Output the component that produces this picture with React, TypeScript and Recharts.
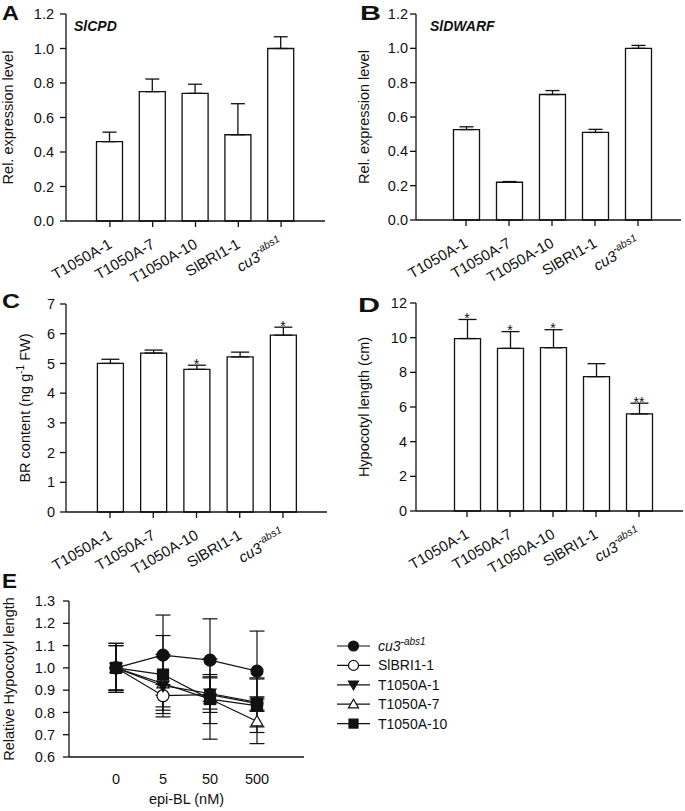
import React from "react";
import {
  BarChart,
  Bar,
  LineChart,
  Line,
  XAxis,
  YAxis,
  ErrorBar,
  ReferenceDot,
} from "recharts";

const FONT = '"Liberation Sans", Arial, Helvetica, sans-serif';
const INK = "#111";

// lines on the x axis of panels A-D
const strains = ["T1050A-1", "T1050A-7", "T1050A-10", "SlBRI1-1", "cu3"];
const strainSup = ["", "", "", "", "-abs1"];

// A: SlCPD expression
const cpdMean = [0.46, 0.75, 0.74, 0.5, 1.0];
const cpdErr = [0.055, 0.073, 0.053, 0.18, 0.068];
// B: SlDWARF expression
const dwarfMean = [0.527, 0.22, 0.731, 0.51, 1.0];
const dwarfErr = [0.016, 0.004, 0.023, 0.018, 0.017];
// C: BR content
const brMean = [5.0, 5.35, 4.8, 5.22, 5.95];
const brErr = [0.14, 0.1, 0.14, 0.16, 0.27];
const brSig = ["", "", "*", "", "*"];
// D: hypocotyl length
const hypMean = [9.95, 9.38, 9.42, 7.75, 5.6];
const hypErr = [1.1, 0.97, 1.04, 0.75, 0.62];
const hypSig = ["*", "*", "*", "", "**"];

const relTicks = [0, 0.2, 0.4, 0.6, 0.8, 1.0, 1.2];
const brTicks = [0, 1, 2, 3, 4, 5, 6, 7];
const hypTicks = [0, 2, 4, 6, 8, 10, 12];

// E: response to epi-BL
const doses = ["0", "5", "50", "500"];
const eTicks = [0.6, 0.7, 0.8, 0.9, 1.0, 1.1, 1.2, 1.3];
const cu3Rel = [1.0, 1.057, 1.035, 0.985];
const cu3RelErr = [0.1, 0.18, 0.185, 0.18];
const bri1Rel = [1.0, 0.875, 0.88, 0.84];
const bri1RelErr = [0.1, 0.05, 0.08, 0.03];
const a1Rel = [1.0, 0.92, 0.885, 0.845];
const a1RelErr = [0.11, 0.14, 0.07, 0.11];
const a7Rel = [1.0, 0.93, 0.86, 0.76];
const a7RelErr = [0.1, 0.12, 0.11, 0.1];
const a10Rel = [1.0, 0.97, 0.86, 0.83];
const a10RelErr = [0.11, 0.175, 0.18, 0.12];

const eSeries = [
  { key: "bri1", name: "SlBRI1-1", sup: "", shape: "circle", filled: false, mean: bri1Rel, err: bri1RelErr },
  { key: "a7", name: "T1050A-7", sup: "", shape: "up", filled: false, mean: a7Rel, err: a7RelErr },
  { key: "a1", name: "T1050A-1", sup: "", shape: "down", filled: true, mean: a1Rel, err: a1RelErr },
  { key: "a10", name: "T1050A-10", sup: "", shape: "square", filled: true, mean: a10Rel, err: a10RelErr },
  { key: "cu3", name: "cu3", sup: "-abs1", shape: "circle", filled: true, mean: cu3Rel, err: cu3RelErr },
];
const legendOrder = ["cu3", "bri1", "a1", "a7", "a10"];

const axisStyle = { stroke: INK, strokeWidth: 1.3 };
const tickFont = { fill: INK, fontSize: 14.5, fontFamily: FONT };

const Marker = (props: any) => {
  const { cx, cy, shape, filled, size = 6 } = props;
  if (cx == null || cy == null) return null;
  const paint = { fill: filled ? INK : "#fff", stroke: INK, strokeWidth: 1.2 };
  const s = size;
  if (shape === "square")
    return <rect x={cx - s + 0.5} y={cy - s + 0.5} width={2 * s - 1} height={2 * s - 1} {...paint} />;
  if (shape === "down")
    return <polygon points={`${cx - s},${cy - s * 0.75} ${cx + s},${cy - s * 0.75} ${cx},${cy + s}`} {...paint} />;
  if (shape === "up")
    return <polygon points={`${cx - s},${cy + s * 0.75} ${cx + s},${cy + s * 0.75} ${cx},${cy - s}`} {...paint} />;
  return <circle cx={cx} cy={cy} r={s} {...paint} />;
};

const StrainTick = (props: any) => {
  const { x, y, payload } = props;
  const sup = strainSup[strains.indexOf(payload.value)] || "";
  return (
    <g transform={`translate(${x + 3},${y + 20}) rotate(-30)`}>
      <text textAnchor="end" fontFamily={FONT} fontSize={15} fill={INK}>
        {sup ? (
          <>
            <tspan fontStyle="italic">{payload.value}</tspan>
            <tspan fontStyle="italic" fontSize={10.5} dy={-7}>
              {sup}
            </tspan>
          </>
        ) : (
          payload.value
        )}
      </text>
    </g>
  );
};

const AxisTitle = (props: any) => {
  const { px, py, parts, rotate = true } = props;
  return (
    <text
      x={px}
      y={py}
      transform={rotate ? `rotate(-90 ${px} ${py})` : undefined}
      textAnchor="middle"
      fontFamily={FONT}
      fontSize={14.5}
      fill={INK}
    >
      {parts.map((p: any, i: number) => (
        <tspan
          key={i}
          fontSize={p.sup ? 10 : undefined}
          dy={p.sup ? -6 : i > 0 && parts[i - 1].sup ? 6 : undefined}
        >
          {p.t}
        </tspan>
      ))}
    </text>
  );
};

const Star = (props: any) => {
  const { viewBox, sig } = props;
  if (!viewBox) return null;
  const cx = viewBox.x + viewBox.width / 2;
  const cy = viewBox.y + viewBox.height / 2;
  return (
    <text x={cx} y={cy + 3.5} textAnchor="middle" fontFamily={FONT} fontSize={14} fill={INK}>
      {sig}
    </text>
  );
};

type PanelProps = {
  means: number[];
  errs: number[];
  sig?: string[];
  ticks: number[];
  digits: number;
  title: { t: string; sup?: boolean }[];
  titleX: number;
  pad: [number, number];
  left: number;
  top: number;
  width: number;
  height: number;
  mTop: number;
  mRight: number;
  yw: number;
  xh: number;
  tickGap: number;
  cap: number;
};

function StrainBarPanel(p: PanelProps) {
  const rows = strains.map((name, i) => ({ name, mean: p.means[i], err: [0, p.errs[i]] }));
  const yMax = p.ticks[p.ticks.length - 1];
  const plotTop = p.mTop;
  const plotBottom = p.height - p.xh;
  return (
    <div style={{ position: "absolute", left: p.left, top: p.top }}>
      <BarChart
        width={p.width}
        height={p.height}
        data={rows}
        margin={{ top: p.mTop, right: p.mRight, bottom: 0, left: 0 }}
      >
        <XAxis
          dataKey="name"
          interval={0}
          height={p.xh}
          padding={{ left: p.pad[0], right: p.pad[1] }}
          tickSize={6}
          tickMargin={0}
          axisLine={axisStyle}
          tickLine={axisStyle}
          tick={<StrainTick />}
        />
        <XAxis
          xAxisId="frame"
          orientation="top"
          dataKey="name"
          height={0}
          tick={false}
          tickLine={false}
          axisLine={axisStyle}
        />
        <YAxis
          width={p.yw}
          domain={[0, yMax]}
          ticks={p.ticks}
          interval={0}
          tickFormatter={(v: number) => v.toFixed(p.digits)}
          tickSize={6}
          tickMargin={p.tickGap}
          axisLine={axisStyle}
          tickLine={axisStyle}
          tick={tickFont}
          label={<AxisTitle px={p.titleX} py={(plotTop + plotBottom) / 2} parts={p.title} />}
        />
        <YAxis
          yAxisId="frame"
          orientation="right"
          width={0}
          domain={[0, yMax]}
          tick={false}
          tickLine={false}
          axisLine={axisStyle}
        />
        <Bar
          dataKey="mean"
          fill="#fff"
          stroke={INK}
          strokeWidth={1.3}
          barSize={26}
          isAnimationActive={false}
        >
          <ErrorBar dataKey="err" width={p.cap} stroke={INK} strokeWidth={1.3} direction="y" />
        </Bar>
        {p.sig &&
          p.sig.map((s, i) =>
            s ? (
              <ReferenceDot
                key={i}
                x={strains[i]}
                y={p.means[i] + p.errs[i]}
                r={0}
                fill="none"
                stroke="none"
                label={<Star sig={s} />}
              />
            ) : null
          )}
      </BarChart>
    </div>
  );
}

function DosePanel() {
  const rows = doses.map((d, i) => {
    const row: any = { idx: i, dose: d };
    eSeries.forEach((s) => {
      row[s.key] = s.mean[i];
      row[s.key + "Err"] = s.err[i];
    });
    return row;
  });
  return (
    <div style={{ position: "absolute", left: 0, top: 560 }}>
      <LineChart width={685} height={251} data={rows} margin={{ top: 41, right: 381, bottom: 0, left: 0 }}>
        <XAxis
          type="number"
          dataKey="idx"
          domain={[-1, 4]}
          ticks={[0, 1, 2, 3]}
          interval={0}
          tickFormatter={(v: number) => doses[v]}
          height={54}
          tickSize={0}
          tickMargin={17}
          tickLine={false}
          axisLine={axisStyle}
          tick={tickFont}
          label={<AxisTitle rotate={false} px={186.5} py={244} parts={[{ t: "epi-BL (nM)" }]} />}
        />
        <XAxis
          xAxisId="frame"
          orientation="top"
          type="number"
          dataKey="idx"
          domain={[-1, 4]}
          height={0}
          tick={false}
          tickLine={false}
          axisLine={axisStyle}
        />
        <YAxis
          width={69}
          domain={[0.6, 1.3]}
          ticks={eTicks}
          interval={0}
          tickFormatter={(v: number) => v.toFixed(1)}
          tickSize={6}
          tickMargin={8}
          axisLine={axisStyle}
          tickLine={axisStyle}
          tick={tickFont}
          label={<AxisTitle px={14} py={119} parts={[{ t: "Relative Hypocotyl length" }]} />}
        />
        <YAxis
          yAxisId="frame"
          orientation="right"
          width={0}
          domain={[0.6, 1.3]}
          tick={false}
          tickLine={false}
          axisLine={axisStyle}
        />
        {eSeries.map((s) => (
          <Line
            key={s.key}
            dataKey={s.key}
            stroke={INK}
            strokeWidth={1.2}
            isAnimationActive={false}
            activeDot={false}
            dot={<Marker shape={s.shape} filled={s.filled} size={6} />}
          >
            <ErrorBar dataKey={s.key + "Err"} width={7.5} stroke={INK} strokeWidth={1.2} direction="y" />
          </Line>
        ))}
      </LineChart>
    </div>
  );
}

function Overlay() {
  const letters = [
    { t: "A", x: 2, y: 20, w: 17 },
    { t: "B", x: 360, y: 20, w: 21 },
    { t: "C", x: 2, y: 308, w: 18 },
    { t: "D", x: 358, y: 312, w: 22 },
    { t: "E", x: 2, y: 588, w: 15 },
  ];
  const items = legendOrder.map((k) => eSeries.find((s) => s.key === k)!);
  return (
    <svg
      width={685}
      height={811}
      style={{ position: "absolute", left: 0, top: 0, pointerEvents: "none" }}
    >
      {letters.map((l) => (
        <text
          key={l.t}
          x={l.x}
          y={l.y}
          fontFamily={FONT}
          fontWeight="bold"
          fontSize={20}
          textLength={l.w}
          lengthAdjust="spacingAndGlyphs"
          fill={INK}
        >
          {l.t}
        </text>
      ))}
      <text x={74} y={31} fontFamily={FONT} fontSize={14} fontWeight="bold" fontStyle="italic" fill={INK}>
        SlCPD
      </text>
      <text x={430} y={31} fontFamily={FONT} fontSize={14} fontWeight="bold" fontStyle="italic" fill={INK}>
        SlDWARF
      </text>
      {items.map((s, i) => {
        const cy = 646 + i * 19.4;
        return (
          <g key={s.key}>
            <line x1={337} x2={370} y1={cy} y2={cy} stroke={INK} strokeWidth={1.2} />
            <Marker cx={353.5} cy={cy} shape={s.shape} filled={s.filled} size={5} />
            <text x={378} y={cy + 5} fontFamily={FONT} fontSize={14} fill={INK}>
              {s.sup ? (
                <>
                  <tspan fontStyle="italic">{s.name}</tspan>
                  <tspan fontStyle="italic" fontSize={10} dy={-6}>
                    {s.sup}
                  </tspan>
                </>
              ) : (
                s.name
              )}
            </text>
          </g>
        );
      })}
    </svg>
  );
}

export default function App() {
  return (
    <div
      style={{
        position: "absolute",
        left: 0,
        top: 0,
        width: 685,
        height: 811,
        background: "#fff",
        fontFamily: FONT,
      }}
    >
      <StrainBarPanel
        means={cpdMean}
        errs={cpdErr}
        ticks={relTicks}
        digits={1}
        title={[{ t: "Rel. expression level" }]}
        titleX={13}
        pad={[22.5, 22.5]}
        left={0}
        top={0}
        width={340}
        height={300}
        mTop={14}
        mRight={15}
        yw={66}
        xh={79}
        tickGap={6}
        cap={7}
      />
      <StrainBarPanel
        means={dwarfMean}
        errs={dwarfErr}
        ticks={relTicks}
        digits={1}
        title={[{ t: "Rel. expression level" }]}
        titleX={28.5}
        pad={[28.5, 21.5]}
        left={340}
        top={0}
        width={345}
        height={300}
        mTop={14}
        mRight={4}
        yw={76}
        xh={80}
        tickGap={2}
        cap={7}
      />
      <StrainBarPanel
        means={brMean}
        errs={brErr}
        sig={brSig}
        ticks={brTicks}
        digits={0}
        title={[{ t: "BR content (ng g" }, { t: "-1", sup: true }, { t: " FW)" }]}
        titleX={30}
        pad={[22.4, 22.4]}
        left={0}
        top={270}
        width={340}
        height={330}
        mTop={34}
        mRight={13}
        yw={66}
        xh={88}
        tickGap={5}
        cap={9}
      />
      <StrainBarPanel
        means={hypMean}
        errs={hypErr}
        sig={hypSig}
        ticks={hypTicks}
        digits={0}
        title={[{ t: "Hypocotyl length (cm)" }]}
        titleX={29}
        pad={[29.5, 22.5]}
        left={340}
        top={270}
        width={345}
        height={330}
        mTop={33}
        mRight={2}
        yw={76}
        xh={89}
        tickGap={3}
        cap={9}
      />
      <DosePanel />
      <Overlay />
    </div>
  );
}
